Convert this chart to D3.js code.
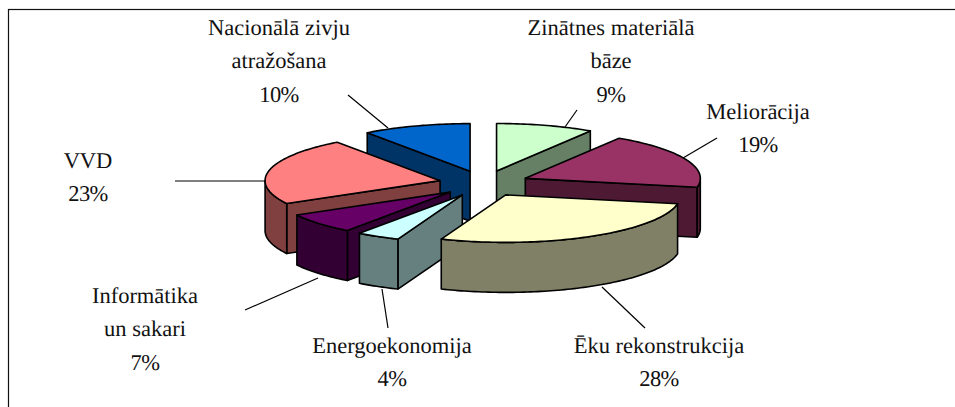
<!DOCTYPE html>
<html>
<head>
<meta charset="utf-8">
<title>pie</title>
<script src="https://d3js.org/d3.v7.min.js"></script>
<style>
  body { margin: 0; background: #fff; }
  svg { display: block; }
  text { font-family: "Liberation Serif", serif; font-size: 22.5px; fill: #111; text-anchor: middle; text-rendering: geometricPrecision; }
  tspan.pct { letter-spacing: -0.6px; }
</style>
</head>
<body>
<div id="chart"></div>
<script>
/* values, clockwise from 12 o'clock */
var names = ["Zinātnes materiālā bāze", "Meliorācija", "Ēku rekonstrukcija", "Energoekonomija", "Informātika un sakari", "VVD", "Nacionālā zivju atražošana"];
var percents = [9, 19, 28, 4, 7, 23, 10];
var nameLines = [["Zinātnes materiālā", "bāze"], ["Meliorācija"], ["Ēku rekonstrukcija"], ["Energoekonomija"], ["Informātika", "un sakari"], ["VVD"], ["Nacionālā zivju", "atražošana"]];
var topColors = ["#ccffcc", "#993366", "#ffffcc", "#ccffff", "#660066", "#ff8080", "#0066cc"];
var sideColors = ["#668066", "#4d1933", "#808066", "#668080", "#330033", "#804040", "#003366"];

/* layout */
var width = 955, height = 407;
var cx = 484, cy = 183.5, rx = 175, ry = 47.5, depth = 50;
var explodeX = 45, explodeY = 13;
var drawOrder = [6, 0, 1, 5, 4, 3, 2];   // back to front
var labelX = [611, 758, 659, 392, 145, 88, 279];
var labelY = [35, 119, 353, 353, 303, 168, 35];
var lineGap = 33.4;
var leaders = [[565, 127, 577, 110], [683, 158, 717, 138], [602, 287, 645, 328], [382, 289, 388, 328], [318, 278, 245, 310], [265, 181, 175, 181], [388, 128, 348, 95]];

var svg = d3.select("#chart").append("svg")
    .attr("width", width)
    .attr("height", height);

/* frame, only top and left are in view */
svg.append("rect")
    .attr("x", 8.5).attr("y", 9.5)
    .attr("width", width + 20).attr("height", height + 20)
    .attr("fill", "#fff")
    .attr("stroke", "#111")
    .attr("stroke-width", 1.2);

var slices = d3.pie().sort(null).value(function(d){ return d; })(percents);

var line = d3.line().curve(d3.curveLinear);

function rim(s, a, dz) {
    var ox = cx + explodeX * Math.sin((s.startAngle + s.endAngle) / 2);
    var oy = cy - explodeY * Math.cos((s.startAngle + s.endAngle) / 2);
    return [ox + rx * Math.sin(a), oy - ry * Math.cos(a) + (dz || 0)];
}
function apex(s, dz) {
    var mid = (s.startAngle + s.endAngle) / 2;
    return [cx + explodeX * Math.sin(mid), cy - explodeY * Math.cos(mid) + (dz || 0)];
}
function arcPoints(s, a0, a1, dz) {
    var n = Math.max(2, Math.ceil((a1 - a0) / 0.02)), pts = [];
    for (var i = 0; i <= n; i++) pts.push(rim(s, a0 + (a1 - a0) * i / n, dz));
    return pts;
}
function radialWall(s, a) {
    return [apex(s), rim(s, a), rim(s, a, depth), apex(s, depth)];
}

var groups = svg.append("g").selectAll("g.slice")
    .data(drawOrder)
    .enter().append("g")
    .attr("class", "slice")
    .attr("stroke", "#000")
    .attr("stroke-width", 1.6)
    .attr("stroke-linejoin", "round");

groups.each(function(idx) {
    var g = d3.select(this), s = slices[idx];
    var walls = [];

    // a radial wall shows if it faces down the screen
    if (Math.cos(s.startAngle - Math.PI / 2) < -1e-6) walls.push(radialWall(s, s.startAngle));
    if (Math.cos(s.endAngle + Math.PI / 2) < -1e-6) walls.push(radialWall(s, s.endAngle));

    // outer wall, only the front half of the ellipse
    var a0 = Math.max(s.startAngle, Math.PI / 2), a1 = Math.min(s.endAngle, Math.PI * 3 / 2);
    if (a1 > a0) walls.push(arcPoints(s, a0, a1).concat(arcPoints(s, a0, a1, depth).reverse()));

    walls.forEach(function(w) {
        g.append("path").attr("d", line(w) + "Z").attr("fill", sideColors[idx]);
    });

    g.append("path")
        .attr("d", line([apex(s)].concat(arcPoints(s, s.startAngle, s.endAngle))) + "Z")
        .attr("fill", topColors[idx]);
});

/* leader lines */
svg.append("g").selectAll("line")
    .data(leaders)
    .enter().append("line")
    .attr("x1", function(d){ return d[0]; })
    .attr("y1", function(d){ return d[1]; })
    .attr("x2", function(d){ return d[2]; })
    .attr("y2", function(d){ return d[3]; })
    .attr("stroke", "#000")
    .attr("stroke-width", 1.2);

/* labels */
var labels = svg.append("g").selectAll("text")
    .data(names)
    .enter().append("text")
    .attr("y", function(d, i){ return labelY[i]; });

labels.selectAll("tspan")
    .data(function(d, i){
        var lines = nameLines[i].map(function(t){ return {t: t, i: i, pct: false}; });
        return lines.concat({t: percents[i] + "%", i: i, pct: true});
    })
    .enter().append("tspan")
    .attr("class", function(d){ return d.pct ? "pct" : null; })
    .attr("x", function(d){ return labelX[d.i]; })
    .attr("dy", function(d, j){ return j ? lineGap : 0; })
    .text(function(d){ return d.t; });
</script>
</body>
</html>
